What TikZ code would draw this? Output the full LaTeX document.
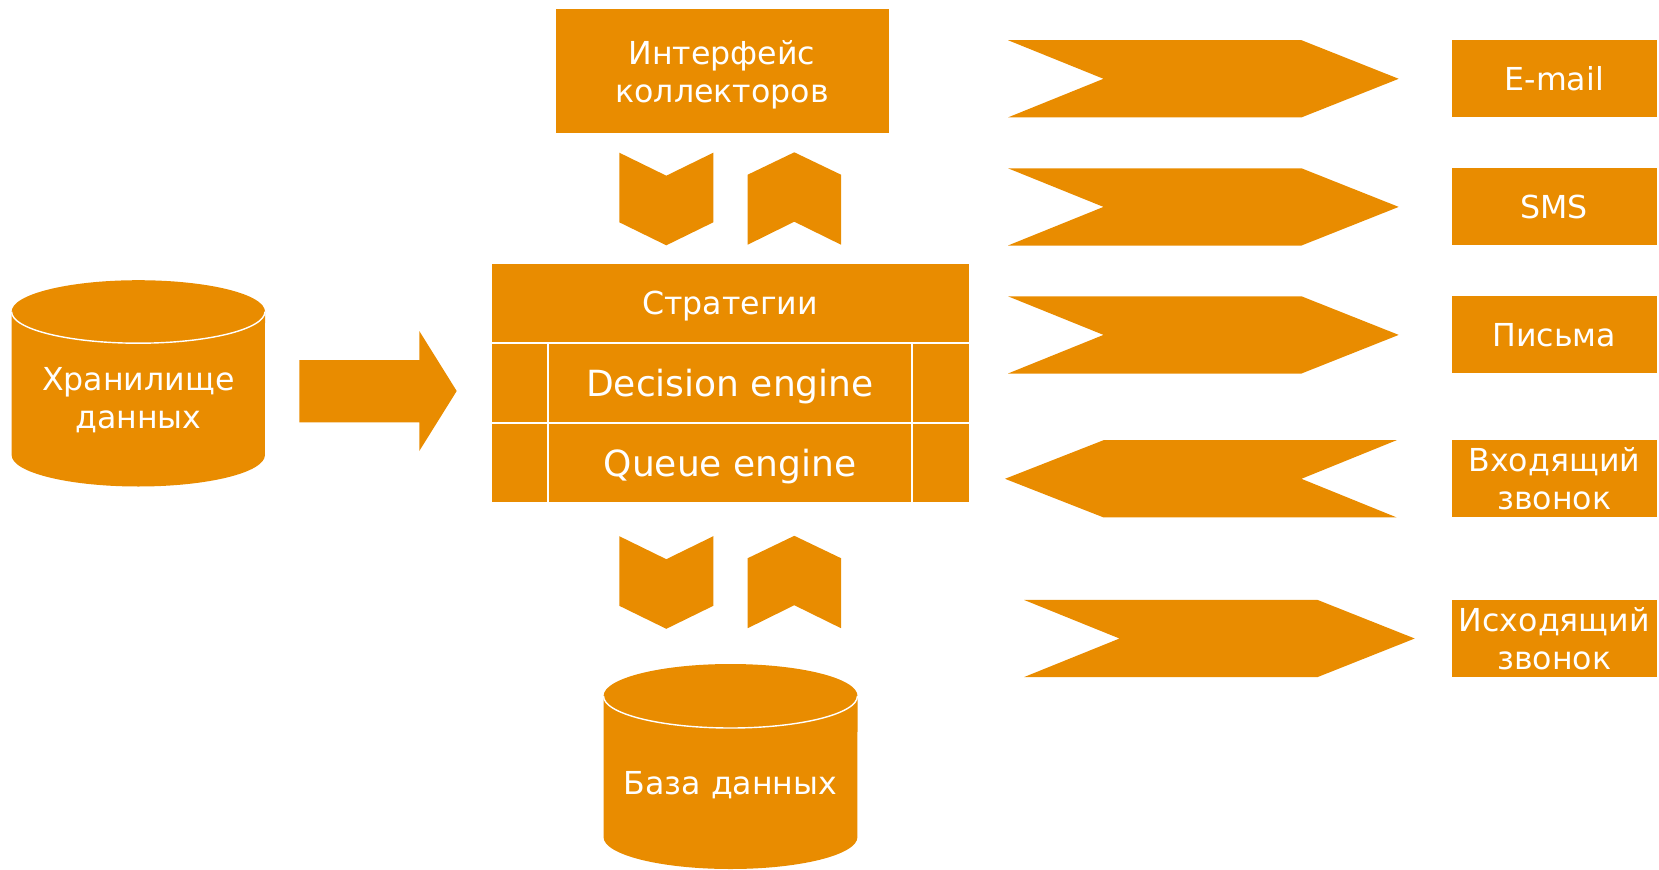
\documentclass[tikz,border=0pt]{standalone}
\usepackage{fontspec}
\setmainfont{DejaVu Sans}
\usepackage{tikz}
\definecolor{ora}{RGB}{233,140,0}

\begin{document}
\begin{tikzpicture}[x=0.02cm, y=-0.02cm,
    txt/.style={text=white, inner sep=0pt, align=center, font=\fontsize{18}{21.5}\selectfont},
    box/.style={txt, fill=ora},
    big/.style={txt, font=\fontsize{20.5}{24}\selectfont},
    rim/.style={white, line width=0.8pt}]
    \useasboundingbox (0,0) rectangle (1659,869);

    % Interfejs
    \fill[ora] (555.5,8.5) rectangle (888.7,133.3);
    \node[txt] (interfejs) at (722,75) {Интерфейс\\коллекторов};

    % Strategii / engines
    \fill[ora] (491.5,263.5) rectangle (969,501.5);
    \draw[white, line width=1.1pt] (491.5,343) -- (969,343) (491.5,423) -- (969,423)
        (548.3,343) -- (548.3,501.5) (912.3,343) -- (912.3,501.5);
    \node[txt] (strategii) at (730,306.5) {Стратегии};
    \node[big] (decision) at (730,387) {Decision engine};
    \node[big] (queue) at (730,467) {Queue engine};

    % Chevrons
    \foreach \s in {0,383.5}
    {
        \fill[ora] (619.3,152.7+\s) -- (666.3,175.7+\s) -- (713.3,152.7+\s) -- (713.3,222.3+\s)
            -- (666.3,245.3+\s) -- (619.3,222.3+\s) -- cycle;
        \fill[ora] (747.7,174.7+\s) -- (794.3,152.3+\s) -- (841,174.7+\s) -- (841,244.7+\s)
            -- (794.3,221.7+\s) -- (747.7,244.7+\s) -- cycle;
    }

    % Hranilishche
    \fill[ora] (11.6,311.7) -- (11.6,455) arc[start angle=180, end angle=360, x radius=2.534cm, y radius=0.63cm]
        -- (265,311.7) arc[start angle=0, end angle=180, x radius=2.534cm, y radius=0.63cm] -- cycle;
    \draw[rim] (11.6,311.7) arc[start angle=180, end angle=360, x radius=2.534cm, y radius=0.63cm];
    \node[txt] (hranilishche) at (138.3,400.5) {Хранилище\\данных};
    \fill[ora] (299.3,360) -- (419.3,360) -- (419.3,331) -- (456.7,391) -- (419.3,451)
        -- (419.3,422.3) -- (299.3,422.3) -- cycle;

    % Baza dannyh
    \fill[ora] (603.5,696) -- (603.5,837) arc[start angle=180, end angle=360, x radius=2.54cm, y radius=0.64cm]
        -- (857.5,696) arc[start angle=0, end angle=180, x radius=2.54cm, y radius=0.64cm] -- cycle;
    \draw[rim] (603.5,696) arc[start angle=180, end angle=360, x radius=2.54cm, y radius=0.64cm];
    \node[txt] (baza) at (730.5,785.5) {База данных};

    % Kanaly
    \foreach \m/\L in {78.8/1008, 206.9/1008, 334.9/1008, 638.5/1024}
        \fill[ora] (\L,\m-38.6) -- (\L+293.5,\m-38.6) -- (\L+390.7,\m) -- (\L+293.5,\m+38.6)
            -- (\L,\m+38.6) -- (\L+95.5,\m) -- cycle;
    \fill[ora] (1005,478.8) -- (1103.5,440.2) -- (1396.6,440.2) -- (1301.4,478.8)
        -- (1396.6,517.4) -- (1103.5,517.4) -- cycle;

    \foreach \m/\name/\label in {78.8/email/E-mail, 206.9/sms/SMS, 334.9/pisma/Письма,
        478.8/vhod/Входящий\\звонок, 638.5/ishod/Исходящий\\звонок}
        \node[box, minimum width=4.108cm, minimum height=1.544cm] (\name) at (1554.3,\m) {\label};
\end{tikzpicture}
\end{document}
